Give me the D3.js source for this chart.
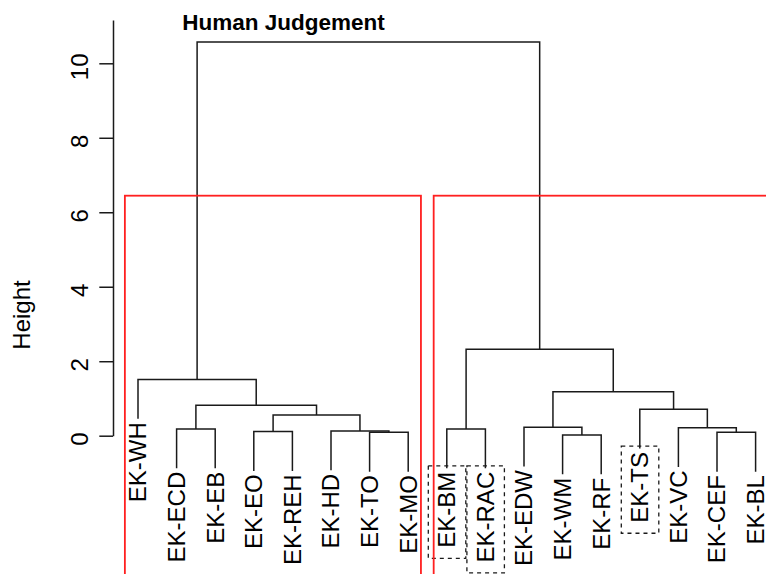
<!DOCTYPE html>
<html><head><meta charset="utf-8">
<script src="https://cdn.jsdelivr.net/npm/d3@7"></script>
<style>body{margin:0;background:#fff} text{font-family:"Liberation Sans",Arial,Helvetica,sans-serif;fill:#000}</style>
</head><body><svg id="c" width="766" height="574"></svg>
<script>
// ---- data ----
const leafLabels = ["EK-WH","EK-ECD","EK-EB","EK-EO","EK-REH","EK-HD","EK-TO","EK-MO",
  "EK-BM","EK-RAC","EK-EDW","EK-WM","EK-RF","EK-TS","EK-VC","EK-CEF","EK-BL"];
// R hclust style merges: negative = leaf (1-based, display order), positive = earlier merge step
const mergeLeft  = [-12,-16,-7,-4,-6,-2,-9,-15,-11, 4,-14, 6, 9,-1, 7,14];
const mergeRight = [-13,-17,-8,-5, 3,-3,-10, 2,  1, 5,  8,10,11,12,13,15];
const mergeHeights = [0.02,0.09,0.09,0.11,0.125,0.18,0.18,0.215,0.225,0.556,0.71,0.82,1.18,1.51,2.32,10.57];
const yTicks = [0,2,4,6,8,10];
const highlighted = ["EK-BM","EK-RAC","EK-TS"];
const chartTitle = "Human Judgement";
const yTitle = "Height";
const kClusters = 2;

// ---- layout ----
const svg = d3.select("#c");
const n = leafLabels.length;
const x = d3.scaleLinear().domain([1, n]).range([138, 755.6]);
const yAxisTop = 11.16;
const y = d3.scaleLinear().domain([0, yAxisTop]).range([435.7, 20.1]);
const hang = 0.1 * (d3.max(mergeHeights) - d3.min(mergeHeights));
const lineColor = "#1a1a1a";
const lw = 1.5;

const nodeX = [];
function cx(id){ return id < 0 ? -id : nodeX[id-1]; }
mergeLeft.forEach((l,i)=>{ nodeX[i] = (cx(l)+cx(mergeRight[i]))/2; });

const leafEnd = new Array(n+1);
function bottom(id, parentH){
  if (id < 0){ leafEnd[-id] = parentH - hang; return parentH - hang; }
  return mergeHeights[id-1];
}
const g = svg.append("g");
mergeLeft.forEach((l,i)=>{
  const r = mergeRight[i], h = mergeHeights[i];
  const p = d3.path();
  p.moveTo(x(cx(l)), y(bottom(l,h)));
  p.lineTo(x(cx(l)), y(h));
  p.lineTo(x(cx(r)), y(h));
  p.lineTo(x(cx(r)), y(bottom(r,h)));
  g.append("path").attr("d", p.toString()).attr("fill","none")
    .attr("stroke", lineColor).attr("stroke-width", lw);
});

// leaf labels
const labelGap = 3.5;
const labs = svg.append("g").selectAll("text").data(leafLabels).join("text")
  .attr("transform",(d,i)=>`translate(${x(i+1)},${y(leafEnd[i+1])+labelGap}) rotate(-90)`)
  .attr("text-anchor","end").attr("dy","0.35em")
  .style("font-size","24px").text(d=>d);

// dashed boxes around highlighted labels
labs.each(function(d,i){
  if (!highlighted.includes(d)) return;
  const len = this.getComputedTextLength();
  const top = y(leafEnd[i+1]) + labelGap;
  svg.append("rect")
    .attr("x", x(i+1) - 18.5).attr("width", 37.5)
    .attr("y", top - 6).attr("height", len + 6 + 10.5)
    .attr("fill","none").attr("stroke", lineColor).attr("stroke-width",1.3)
    .attr("stroke-dasharray","4,4");
});

// y axis
const ax = svg.append("g").attr("transform","translate(113,0)")
  .call(d3.axisLeft(y).tickValues(yTicks).tickSize(13.7).tickSizeOuter(0).tickFormat(d3.format("d")));
ax.select(".domain").attr("stroke", lineColor).attr("stroke-width",lw);
ax.selectAll(".tick line").attr("stroke", lineColor).attr("stroke-width",lw);
ax.selectAll(".tick text")
  .attr("x",-3).attr("y",-25).attr("dy",null)
  .attr("transform","rotate(-90)").attr("text-anchor","middle")
  .style("font-size","24px").style("font-family",'"Liberation Sans",Arial,sans-serif').attr("fill","#000");

svg.append("text").attr("transform",`translate(30,${315}) rotate(-90)`)
  .attr("text-anchor","middle").style("font-size","24px").text(yTitle);

svg.append("text").attr("x",283.5).attr("y",30).attr("text-anchor","middle")
  .style("font-size","22.5px").style("font-weight","bold").text(chartTitle);

// rect.hclust style cluster rectangles (k = 2)
function leaves(id){ return id < 0 ? [-id] : leaves(mergeLeft[id-1]).concat(leaves(mergeRight[id-1])); }
const sortedH = mergeHeights.slice().sort((a,b)=>b-a);
const rectTop = (sortedH[kClusters-2] + sortedH[kClusters-1]) / 2;
const rootIdx = mergeHeights.indexOf(d3.max(mergeHeights));
[mergeLeft[rootIdx], mergeRight[rootIdx]].forEach(c=>{
  const lv = leaves(c);
  const x0 = x(d3.min(lv) - 0.34), x1 = x(d3.max(lv) + 0.33);
  svg.append("rect").attr("x",x0).attr("y",y(rectTop))
    .attr("width",x1-x0).attr("height", 620 - y(rectTop))
    .attr("fill","none").attr("stroke","#ff2020").attr("stroke-width",1.8);
});
</script></body></html>
